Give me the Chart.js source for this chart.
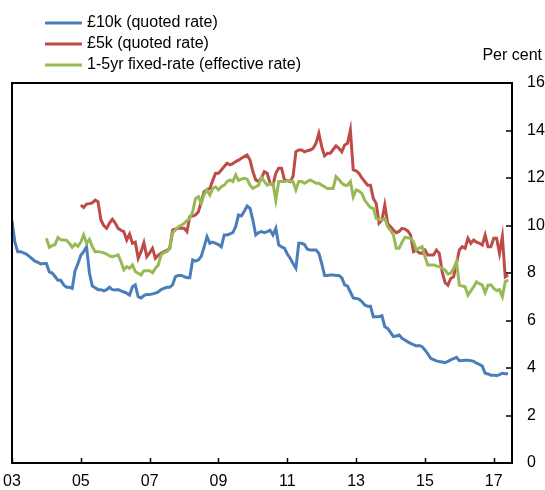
<!DOCTYPE html>
<html>
<head>
<meta charset="utf-8">
<script src="https://cdn.jsdelivr.net/npm/chart.js@4"></script>
<style>
  body { margin: 0; background: #fff; }
</style>
</head>
<body>
<canvas id="chart" width="545" height="490"></canvas>
<script>
// monthly series, each starting in January of the given year
const seriesNames = ['£10k (quoted rate)', '£5k (quoted rate)', '1-5yr fixed-rate (effective rate)']
const blueFrom = 2003
const blueVals = [
  10.2, 9.3, 8.9, 8.9, 8.85, 8.8, 8.7, 8.6, 8.5, 8.45, 8.38, 8.4,
  8.4, 8.05, 8.0, 7.85, 7.7, 7.7, 7.5, 7.4, 7.4, 7.35, 8.1, 8.4,
  8.75, 8.9, 9.1, 8.0, 7.45, 7.38, 7.3, 7.3, 7.25, 7.3, 7.4, 7.3,
  7.28, 7.3, 7.25, 7.2, 7.15, 7.07, 7.42, 7.5, 7.0, 6.95, 7.05, 7.1,
  7.1, 7.12, 7.15, 7.2, 7.3, 7.35, 7.4, 7.4, 7.5, 7.85, 7.9, 7.9,
  7.85, 7.8, 7.8, 8.55, 8.5, 8.55, 8.7, 9.1, 9.53, 9.25, 9.3, 9.25,
  9.2, 9.1, 9.6, 9.6, 9.65, 9.7, 9.95, 10.44, 10.4, 10.6, 10.82, 10.72,
  10.23, 9.6, 9.7, 9.74, 9.7, 9.74, 9.8, 9.6, 9.88, 9.18, 9.1, 9.05,
  8.8, 8.62, 8.4, 8.2, 9.25, 9.25, 9.2, 9.0, 8.97, 8.97, 8.97, 8.83,
  8.4, 7.9, 7.9, 7.92, 7.92, 7.9, 7.9, 7.8, 7.5, 7.45, 7.2, 6.95,
  6.93, 6.9, 6.8, 6.65, 6.6, 6.6, 6.16, 6.16, 6.16, 6.2, 5.74, 5.67,
  5.5, 5.32, 5.35, 5.39, 5.25, 5.18, 5.1, 5.04, 4.98, 4.93, 4.95, 4.9,
  4.76, 4.6, 4.41, 4.35, 4.3, 4.27, 4.25, 4.22, 4.28, 4.34, 4.4, 4.45,
  4.31, 4.32, 4.33, 4.33, 4.31, 4.28, 4.2, 4.15, 4.08, 3.78, 3.75, 3.7,
  3.7, 3.68, 3.72, 3.78, 3.76, 3.76
]
const redFrom = 2005
const redVals = [
  10.86, 10.76, 10.9, 10.92, 10.95, 11.07, 11.0, 10.23, 10.0, 9.88, 10.1, 10.26,
  10.1, 9.88, 9.8, 9.74, 9.39, 9.64, 9.25, 9.3, 8.62, 8.9, 9.28, 8.69,
  8.85, 9.04, 8.62, 8.75, 8.83, 8.9, 8.95, 9.04, 9.81, 9.85, 9.88, 9.88,
  9.88, 9.74, 10.37, 10.4, 10.44, 10.58, 11.0, 11.42, 11.5, 11.56, 11.9, 12.2,
  12.2, 12.34, 12.48, 12.62, 12.55, 12.6, 12.69, 12.75, 12.83, 12.9, 12.97, 12.76,
  12.27, 11.92, 11.85, 12.0, 12.27, 12.2, 11.78, 11.7, 12.2, 12.41, 12.41, 11.92,
  11.9, 11.85, 12.06, 13.11, 13.18, 13.18, 13.1, 13.15, 13.18, 13.25, 13.46, 13.88,
  13.32, 12.93, 13.04, 13.04, 13.2, 13.35, 13.25, 13.1, 13.39, 13.46, 14.02, 12.34,
  12.3, 12.2, 12.0, 11.85, 11.7, 11.7, 11.14, 10.93, 10.1, 10.23, 10.86, 10.09,
  9.95, 9.81, 9.7, 9.75, 9.88, 9.85, 9.77, 9.6, 8.9, 8.95, 8.85, 8.83,
  8.97, 8.76, 8.76, 8.76, 8.97, 8.83, 8.06, 7.6, 7.49, 7.77, 7.84, 8.4,
  8.97, 9.11, 9.04, 9.46, 9.25, 9.39, 9.3, 9.25, 9.18, 9.6, 9.11, 9.11,
  9.46, 9.46, 8.83, 9.53, 7.84, 7.92
]
const greenFrom = 2004
const greenVals = [
  9.46, 9.08, 9.15, 9.2, 9.49, 9.4, 9.39, 9.38, 9.25, 9.08, 9.22, 9.12,
  9.3, 9.6, 9.25, 9.42, 9.11, 8.9, 8.9, 8.88, 8.85, 8.8, 8.72, 8.69,
  8.72, 8.76, 8.48, 8.13, 8.27, 8.2, 8.34, 8.06, 7.99, 7.92, 8.1, 8.1,
  8.1, 8.01, 8.2, 8.34, 8.76, 8.86, 8.9, 9.04, 9.7, 9.81, 9.95, 10.0,
  10.09, 10.2, 10.3, 10.58, 11.14, 11.21, 10.93, 11.3, 11.5, 11.28, 11.56, 11.63,
  11.5, 11.63, 11.7, 11.85, 11.92, 11.85, 12.13, 11.89, 11.95, 11.99, 11.95, 11.7,
  11.56, 11.63, 11.7, 12.03, 11.85, 11.7, 11.75, 11.78, 11.07, 11.85, 11.85, 11.85,
  11.88, 11.88, 11.85, 11.5, 11.85, 11.85, 11.78, 11.85, 11.92, 11.85, 11.78, 11.78,
  11.7, 11.63, 11.56, 11.56, 11.56, 12.06, 11.94, 11.78, 11.7, 11.7, 11.85, 11.21,
  11.5, 11.45, 11.35, 11.07, 10.9, 10.76, 10.72, 10.3, 10.25, 10.23, 10.3, 9.95,
  9.8, 9.6, 9.04, 9.04, 9.3, 9.5, 9.48, 9.46, 9.32, 8.97, 9.05, 9.11,
  8.69, 8.34, 8.34, 8.34, 8.3, 8.27, 8.2, 8.13, 7.96, 7.99, 8.2, 8.48,
  7.49, 7.45, 7.42, 7.07, 7.25, 7.42, 7.63, 7.55, 7.49, 7.17, 7.49, 7.5,
  7.35, 7.26, 7.3, 7.0, 7.63, 7.7
]
const yearTicks = [2003, 2005, 2007, 2009, 2011, 2013, 2015, 2017]
const colors = ['#4a7ebb', '#be4b48', '#98b954']

function monthly(from, vals) {
  return vals.map((v, i) => ({ x: from + i / 12, y: v }))
}

const FONT = '"Liberation Sans", Arial, sans-serif'
Chart.defaults.font.family = FONT
Chart.defaults.font.size = 16
Chart.defaults.color = '#000'

// frame, inward ticks, legend and unit label
const decor = {
  id: 'decor',
  afterDraw(chart) {
    const c = chart.ctx
    const a = chart.chartArea
    const xs = chart.scales.x
    const ys = chart.scales.y
    c.save()
    c.strokeStyle = '#000'
    c.lineWidth = 2
    c.strokeRect(a.left, a.top, a.right - a.left, a.bottom - a.top)
    c.lineWidth = 1.5
    c.beginPath()
    yearTicks.forEach(v => {
      const px = Math.round(xs.getPixelForValue(v)) + 0.5
      c.moveTo(px, a.bottom)
      c.lineTo(px, a.bottom - 5)
    })
    ys.ticks.forEach(t => {
      const py = Math.round(ys.getPixelForValue(t.value))
      c.moveTo(a.right, py)
      c.lineTo(a.right - 6, py)
    })
    c.stroke()

    c.font = '16px ' + FONT
    c.fillStyle = '#000'
    c.textBaseline = 'middle'
    c.textAlign = 'right'
    c.fillText('Per cent', 542, 56)
    c.textAlign = 'left'
    chart.data.datasets.forEach((ds, i) => {
      const y = 23 + i * 21
      c.strokeStyle = ds.borderColor
      c.lineWidth = 3
      c.beginPath()
      c.moveTo(45, y)
      c.lineTo(82, y)
      c.stroke()
      c.fillText(ds.label, 87, y)
    })
    c.restore()
  }
}

const ctx = document.getElementById('chart').getContext('2d')
const chart = new Chart(ctx, {
  type: 'line',
  data: {
    datasets: [
      { label: seriesNames[0], data: monthly(blueFrom, blueVals), borderColor: colors[0], order: 3 },
      { label: seriesNames[1], data: monthly(redFrom, redVals), borderColor: colors[1], order: 2 },
      { label: seriesNames[2], data: monthly(greenFrom, greenVals), borderColor: colors[2], order: 1 }
    ]
  },
  options: {
    responsive: false,
    animation: false,
    layout: { padding: { left: 12, top: 83, right: 0, bottom: 0 } },
    elements: {
      line: { borderWidth: 3, tension: 0, fill: false },
      point: { radius: 0 }
    },
    plugins: { legend: { display: false }, tooltip: { enabled: false } },
    scales: {
      x: {
        type: 'linear',
        min: 2003,
        max: 2017.53,
        grid: { display: false, drawTicks: false },
        border: { display: false },
        afterBuildTicks: s => { s.ticks = yearTicks.map(v => ({ value: v })) },
        afterFit: s => { s.height = 27; s.paddingLeft = 0; s.paddingRight = 0 },
        ticks: {
          padding: 9,
          maxRotation: 0,
          autoSkip: false,
          callback: v => String(v % 100).padStart(2, '0')
        }
      },
      y: {
        position: 'right',
        min: 0,
        max: 16,
        grid: { display: false, drawTicks: false },
        border: { display: false },
        afterFit: s => { s.width = 33; s.paddingTop = 0; s.paddingBottom = 0 },
        ticks: { stepSize: 2, padding: 15 }
      }
    }
  },
  plugins: [decor]
})
</script>
</body>
</html>
